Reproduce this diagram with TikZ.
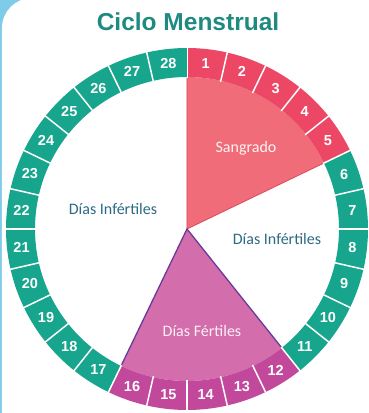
\documentclass[tikz,border=0pt]{standalone}
\usepackage{fontspec}
\setmainfont{Liberation Sans}
\newfontfamily\labelfont{Carlito}
\definecolor{bgblue}{HTML}{7FCBEA}
\definecolor{teal}{HTML}{17A58D}
\definecolor{titleteal}{HTML}{1F8A80}
\definecolor{redcell}{HTML}{EC4866}
\definecolor{redwedge}{HTML}{EF6C78}
\definecolor{rededge}{HTML}{DC4A5E}
\definecolor{magcell}{HTML}{C1489B}
\definecolor{magwedge}{HTML}{D46DAB}
\definecolor{purpedge}{HTML}{6A3A9A}
\definecolor{infert}{HTML}{2C6B84}
\begin{document}
\begin{tikzpicture}[x=1pt, y=1pt,
    daynum/.style={text=white, font=\fontsize{14.5}{16}\selectfont\bfseries, inner sep=0pt},
    zone/.style={font=\labelfont\fontsize{16}{18}\selectfont, inner sep=0pt}]
  \useasboundingbox (-187, -184) rectangle (182, 229);
  \fill[bgblue] (-187, -184) rectangle (182, 229);
  \fill[white, rounded corners=30pt] (-185, -220) rectangle (220, 231);

  \node[font=\fontsize{24.5}{28}\selectfont\bfseries, text=titleteal] (title) at (1, 207) {Ciclo Menstrual};

  % wedges
  \fill[redwedge] (0, 0) -- (90:152) arc[start angle=90, end angle=25.714, radius=152] -- cycle;
  \draw[rededge, thick] (90:152) -- (0, 0) -- (25.714:152);
  \fill[magwedge] (0, 0) -- (-51.429:152) arc[start angle=-51.429, end angle=-115.714, radius=152] -- cycle;
  \draw[purpedge, line width=1.3pt] (-115.714:152) -- (0, 0) -- (-51.429:152);

  % ring of days
  \foreach \i in {1,...,28} {
      \pgfmathsetmacro{\a}{90-(\i-1)*360/28}
      \pgfmathsetmacro{\b}{90-\i*360/28}
      \pgfmathsetmacro{\m}{90-(\i-0.5)*360/28}
      \ifnum\i<6 \def\col{redcell}\else
        \ifnum\i>11 \ifnum\i<17 \def\col{magcell}\else\def\col{teal}\fi
        \else\def\col{teal}\fi
      \fi
      \fill[\col] (\a:181) arc[start angle=\a, end angle=\b, radius=181]
          -- (\b:152) arc[start angle=\b, end angle=\a, radius=152] -- cycle;
      \draw[white, line width=1.5pt] (\a:151) -- (\a:182);
      \node[daynum] (n\i) at (\m:166.5) {\i};
    }

  \node[zone, text=infert] (infleft) at (-74, 20) {Días Infértiles};
  \node[zone, text=infert] (infright) at (90, -10) {Días Infértiles};
  \node[zone, text=white!92!redwedge] (sang) at (59, 81) {Sangrado};
  \node[zone, text=white!90!magwedge] (fert) at (15, -102) {Días Fértiles};
\end{tikzpicture}
\end{document}
